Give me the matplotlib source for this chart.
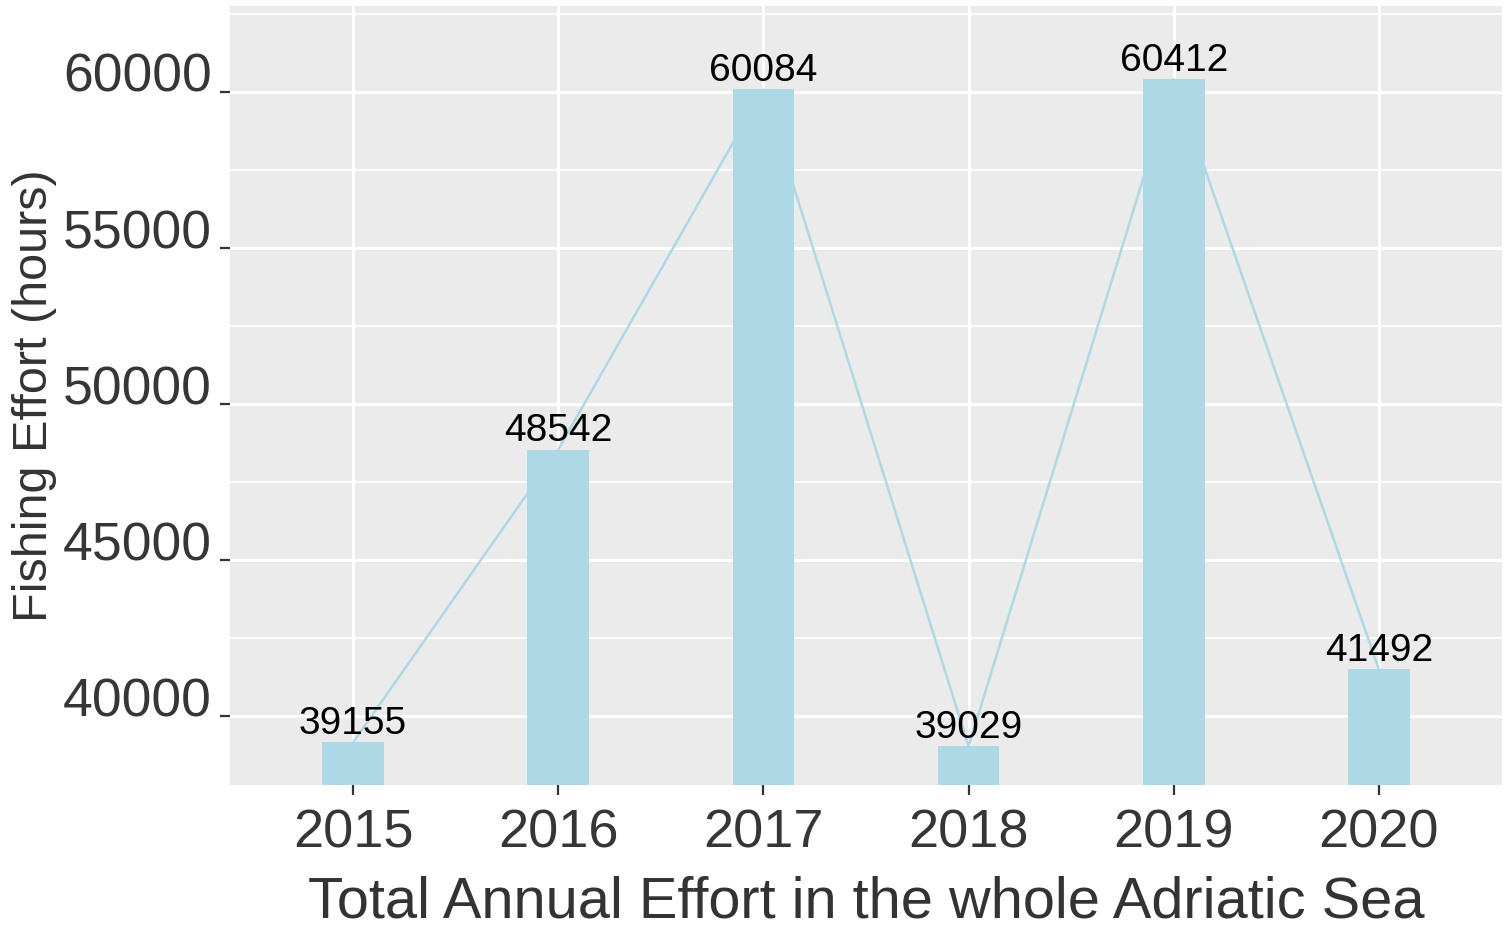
import matplotlib
matplotlib.use("Agg")
import matplotlib.pyplot as plt
from matplotlib.ticker import MultipleLocator

years = ["2015", "2016", "2017", "2018", "2019", "2020"]
effort = [39155, 48542, 60084, 39029, 60412, 41492]

plt.rcParams['font.family'] = ['Liberation Sans', 'DejaVu Sans']

fig = plt.figure(figsize=(15.11, 9.30), dpi=100)
ax = fig.add_axes([230/1511, 1-785/930, (1502-230)/1511, (785-6)/930])
ax.set_facecolor('#EBEBEB')

x = list(range(len(years)))
ax.bar(x, effort, width=0.3, color='#ADD8E6', zorder=3)
ax.plot(x, effort, color='#ADD8E6', linewidth=1.8, zorder=2.5)
for xi, v in zip(x, effort):
    ax.annotate(str(v), (xi, v), xytext=(0, 6), textcoords='offset points',
                ha='center', va='baseline', fontsize=28, color='black', zorder=4)

ax.set_xlim(-0.6, len(years) - 1 + 0.6)
ax.set_ylim(37790, 62756)
ax.set_xticks(x)
ax.set_xticklabels(years)
ax.yaxis.set_major_locator(MultipleLocator(5000))
ax.yaxis.set_minor_locator(MultipleLocator(2500))

ax.grid(which='major', color='white', linewidth=2.2, zorder=0)
ax.grid(which='minor', axis='y', color='white', linewidth=1.1, zorder=0)
ax.set_axisbelow(True)
for s in ax.spines.values():
    s.set_visible(False)

ax.tick_params(axis='both', which='major', length=7, width=1.6, color='#333333',
               labelcolor='#363636')
ax.tick_params(axis='x', which='major', labelsize=39, pad=10)
ax.tick_params(axis='y', which='major', labelsize=38.5, pad=6)
ax.tick_params(axis='y', which='minor', length=0)
for lab in ax.get_yticklabels():
    lab.set_verticalalignment('baseline')

ax.set_xlabel("Total Annual Effort in the whole Adriatic Sea", fontsize=41.6,
              color='#333333', labelpad=12)
ax.set_ylabel("Fishing Effort (hours)", fontsize=35, color='#333333', labelpad=4)

fig.savefig("out.png", dpi=100)
